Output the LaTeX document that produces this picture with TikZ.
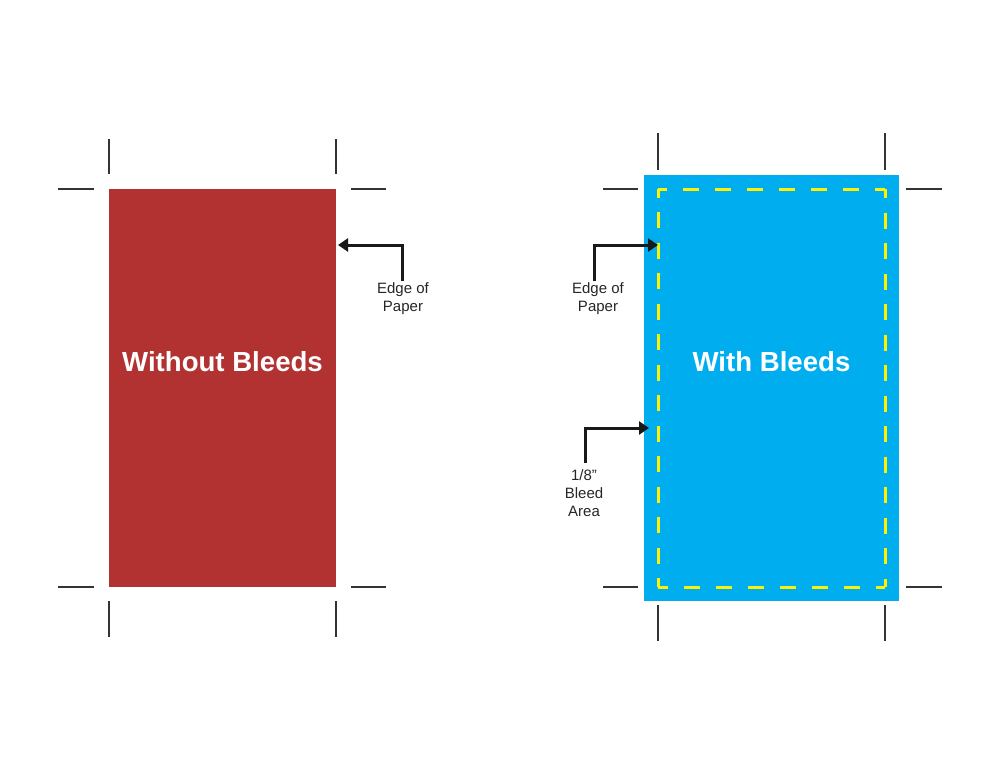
\documentclass[tikz,border=0pt]{standalone}
\usepackage{fontspec}
\setmainfont{Liberation Sans}
\usetikzlibrary{arrows.meta}
\definecolor{bleedred}{HTML}{B23232}
\definecolor{bleedblue}{HTML}{00AEEF}
\definecolor{bleedyellow}{HTML}{FFF200}
\definecolor{markgray}{HTML}{333333}
\tikzset{
  crop/.style={draw=markgray, line width=2pt},
  pointer/.style={draw=black!90, line width=3pt, -{Triangle[length=10pt,width=13pt]}},
  label/.style={font=\fontsize{15}{18}\selectfont, align=center, text=black!85, inner sep=0pt},
  title/.style={font=\fontsize{27.6}{33}\bfseries\selectfont, text=white, inner sep=0pt},
  bleedh/.style={draw=bleedyellow, line width=3pt, dash pattern=on 16pt off 16pt, dash phase=7pt},
  bleedv/.style={draw=bleedyellow, line width=3pt, dash pattern=on 16pt off 14.5pt, dash phase=7pt},
}
\begin{document}
\begin{tikzpicture}[x=1pt,y=-1pt]
\useasboundingbox (0,0) rectangle (1000,773);
% left sheet
\fill[bleedred] (109,189) rectangle (336,587);
\node[title] (t1) at (222.5,362) {Without Bleeds};
% left crop marks
\draw[crop] (109,139) -- (109,174);
\draw[crop] (336,139) -- (336,174);
\draw[crop] (109,601) -- (109,637);
\draw[crop] (336,601) -- (336,637);
\draw[crop] (58,189) -- (94,189);
\draw[crop] (351,189) -- (386,189);
\draw[crop] (58,587) -- (94,587);
\draw[crop] (351,587) -- (386,587);
% left label and arrow
\node[label] (l1) at (403,299) {Edge of\\Paper};
\coordinate (a1s) at (402,281);
\coordinate (a1e) at (338,245);
\draw[pointer] (a1s) |- (a1e);
% right sheet
\fill[bleedblue] (644,175) rectangle (899,601);
\coordinate (c1) at (658,189);
\coordinate (c2) at (885,189);
\coordinate (c3) at (885,587);
\coordinate (c4) at (658,587);
\draw[bleedh] (c1) -- (c2);
\draw[bleedv] (c2) -- (c3);
\draw[bleedh] (c3) -- (c4);
\draw[bleedv] (c4) -- (c1);
\node[title] (t2) at (771.5,362) {With Bleeds};
% right crop marks
\draw[crop] (658,133) -- (658,170);
\draw[crop] (885,133) -- (885,170);
\draw[crop] (658,605) -- (658,641);
\draw[crop] (885,605) -- (885,641);
\draw[crop] (603,189) -- (638,189);
\draw[crop] (906,189) -- (942,189);
\draw[crop] (603,587) -- (638,587);
\draw[crop] (906,587) -- (942,587);
% right labels and arrows
\node[label] (l2) at (598,299) {Edge of\\Paper};
\coordinate (a2s) at (594,281);
\coordinate (a2e) at (658,245);
\draw[pointer] (a2s) |- (a2e);
\node[label] (l3) at (584,493) {1/8”\\Bleed\\Area};
\coordinate (a3s) at (585,463);
\coordinate (a3e) at (649,428);
\draw[pointer] (a3s) |- (a3e);
\end{tikzpicture}
\end{document}
